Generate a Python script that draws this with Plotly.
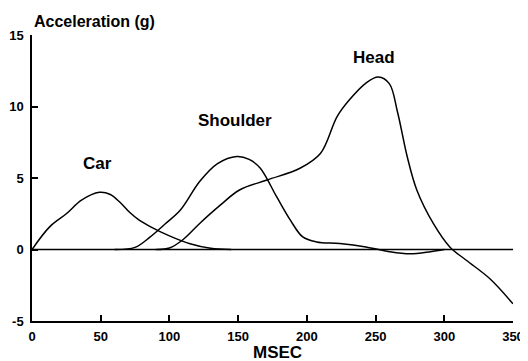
import plotly.graph_objects as go

# Data
car_t = [0, 13, 25, 36, 49, 57, 64, 71, 78, 86, 100, 115, 130, 145]
car_g = [0, 1.6, 2.5, 3.45, 4.0, 3.85, 3.3, 2.6, 2.05, 1.6, 0.95, 0.4, 0.08, 0]

shoulder_t = [60, 75, 86, 97, 108, 122, 135, 149, 158, 166, 178, 188, 197, 207, 224, 243, 260, 275, 290, 300]
shoulder_g = [0, 0.15, 0.88, 1.8, 2.76, 4.75, 6.0, 6.5, 6.3, 5.7, 3.69, 2.05, 0.88, 0.53, 0.42, 0.18, -0.15, -0.3, -0.15, 0]

head_t = [90, 100, 110, 122, 137, 151, 171, 195, 210, 222, 231, 243, 252, 260, 266, 273, 280, 292, 304, 316, 333, 350]
head_g = [0, 0.1, 0.7, 1.82, 3.1, 4.16, 4.86, 5.68, 6.73, 9.3, 10.47, 11.64, 12.06, 11.6, 9.6, 6.5, 4.16, 1.82, 0.18, -0.75, -2.03, -3.8]

baseline_t = [0, 350]
baseline_g = [0, 0]

labels = ["Car", "Shoulder", "Head"]
label_t = [48, 148, 249]
label_g = [6.0, 9.05, 13.4]

x_ticks = [0, 50, 100, 150, 200, 250, 300, 350]
y_ticks = [-5, 0, 5, 10, 15]

FONT = "Liberation Sans"
line = dict(color="black", width=1.5, shape="spline", smoothing=1.0)

fig = go.Figure()
fig.add_trace(go.Scatter(x=baseline_t, y=baseline_g, mode="lines",
                         line=dict(color="black", width=1.5)))
for t, g in [(car_t, car_g), (shoulder_t, shoulder_g), (head_t, head_g)]:
    fig.add_trace(go.Scatter(x=t, y=g, mode="lines", line=line))

for txt, xt, yg in zip(labels, label_t, label_g):
    fig.add_annotation(x=xt, y=yg, text=f"<b>{txt}</b>", showarrow=False,
                       font=dict(family=FONT, size=17, color="black"),
                       xanchor="center", yanchor="middle")

fig.add_annotation(xref="paper", yref="paper", x=0, y=1.047,
                   text="<b>Acceleration (g)</b>", showarrow=False,
                   font=dict(family=FONT, size=16, color="black"),
                   xanchor="left", yanchor="middle")
fig.add_annotation(xref="paper", yref="paper", x=0.511, y=-0.11,
                   text="<b>MSEC</b>", showarrow=False,
                   font=dict(family=FONT, size=17, color="black"),
                   xanchor="center", yanchor="middle")

# the page body has an 8px margin, so the figure is sized to fit inside it
fig.update_layout(
    width=520, height=353,
    margin=dict(l=24, r=15, t=27, b=40, pad=0, autoexpand=False),
    paper_bgcolor="white", plot_bgcolor="white",
    showlegend=False,
    font=dict(family=FONT, color="black"),
)
fig.update_xaxes(range=[0, 350], tickvals=x_ticks,
                 ticktext=[f"<b>{v}</b>" for v in x_ticks],
                 showgrid=False, zeroline=False, automargin=False,
                 showline=True, linecolor="black", linewidth=1.5,
                 ticks="inside", ticklen=6, tickwidth=1.5, tickcolor="black",
                 tickfont=dict(family=FONT, size=13, color="black"),
                 ticklabelstandoff=3)
fig.update_yaxes(range=[-5, 15], tickvals=y_ticks,
                 ticktext=[f"<b>{v}</b>" for v in y_ticks],
                 showgrid=False, zeroline=False, automargin=False,
                 showline=True, linecolor="black", linewidth=1.5,
                 ticks="inside", ticklen=6, tickwidth=1.5, tickcolor="black",
                 tickfont=dict(family=FONT, size=13, color="black"),
                 ticklabelstandoff=4)

fig.write_html("out.html")
